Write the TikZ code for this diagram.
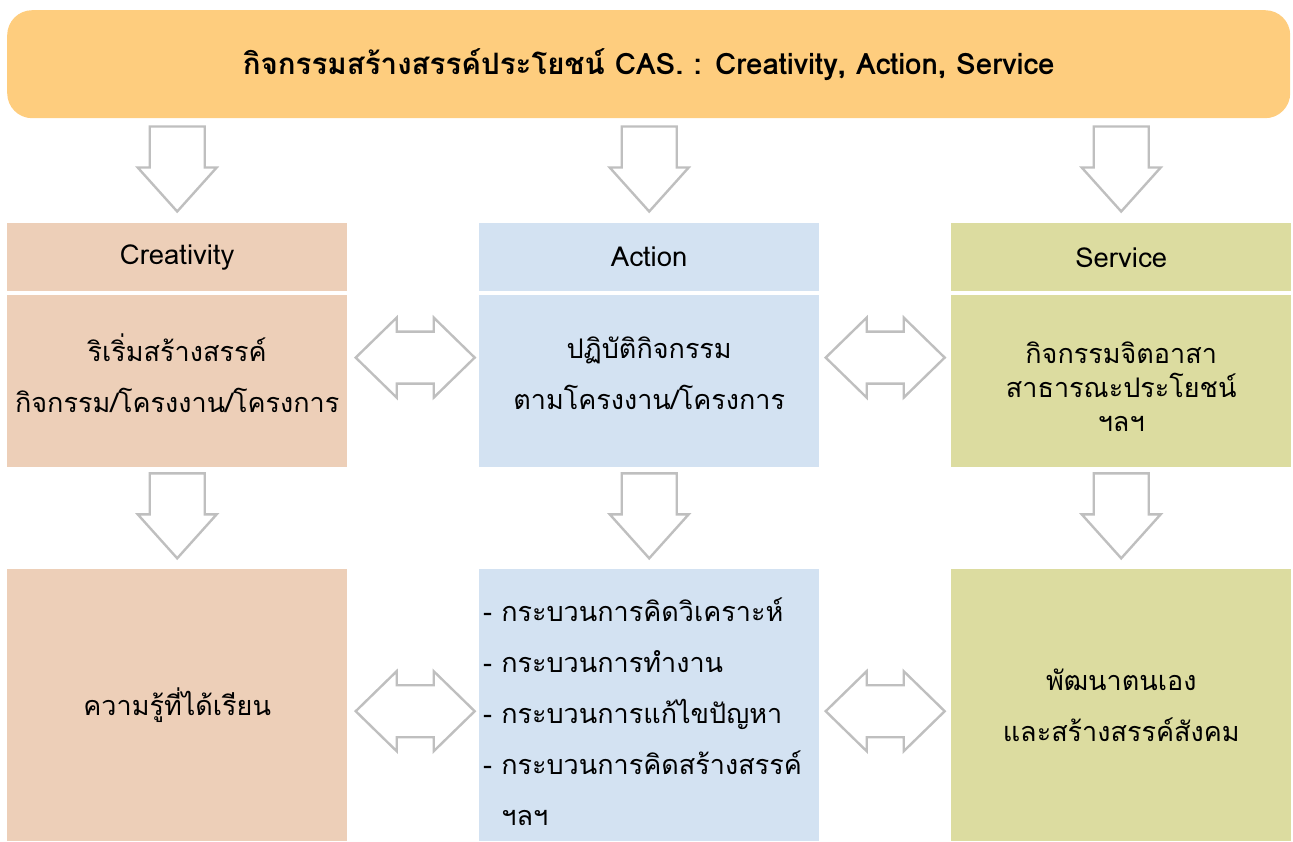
\documentclass[tikz,border=0pt]{standalone}
\usepackage{fontspec}
\usepackage{xcolor}
\usetikzlibrary{positioning,calc}
\newfontfamily\thaifont[Script=Thai]{Loma}

\definecolor{casorange}{RGB}{254,205,126}
\definecolor{crepeach}{RGB}{237,207,184}
\definecolor{actblue}{RGB}{211,226,242}
\definecolor{serolive}{RGB}{220,220,160}
\definecolor{arrgray}{RGB}{191,191,191}

\tikzset{
  arrline/.style={draw=arrgray,line width=2.4pt,fill=white,line join=miter},
  headbox/.style={rectangle,inner sep=0pt,minimum width=340pt,minimum height=68pt,
    font=\thaifont\fontsize{27.5}{30}\selectfont},
  bodybox/.style={rectangle,inner sep=0pt,minimum width=340pt,align=center,
    font=\thaifont\fontsize{27}{51}\selectfont},
  downarr/.pic={
    \draw[arrline] (-27.5,-42.5) -- (27.5,-42.5) -- (27.5,-1.5) -- (39.5,-1.5)
      -- (0,42.5) -- (-39.5,-1.5) -- (-27.5,-1.5) -- cycle;
  },
  dblarr/.pic={
    \draw[arrline] (-59.5,0) -- (-18.5,-40) -- (-18.5,-26) -- (18.5,-26) -- (18.5,-40)
      -- (59.5,0) -- (18.5,40) -- (18.5,26) -- (-18.5,26) -- (-18.5,40) -- cycle;
  }
}

\begin{document}
\begin{tikzpicture}[x=1pt,y=-1pt]
\useasboundingbox (0,0) rectangle (1293,841);

% banner
\node[rectangle,rounded corners=25pt,fill=casorange,minimum width=1283pt,minimum height=108pt,
  anchor=north west,font=\thaifont\bfseries\fontsize{29.5}{32}\selectfont] (cas) at (7,10)
  {กิจกรรมสร้างสรรค์ประโยชน์ CAS. : Creativity, Action, Service};

% column headers
\node[headbox,fill=crepeach,anchor=north west] (cre0) at (7,223) {Creativity};
\node[headbox,fill=actblue,anchor=north west] (act0) at (479,223) {Action};
\node[headbox,fill=serolive,anchor=north west] (ser0) at (951,223) {Service};

% first row
\node[bodybox,fill=crepeach,minimum height=172pt,below=3pt of cre0] (cre1)
  {ริเริ่มสร้างสรรค์\\กิจกรรม/โครงงาน/โครงการ\rule[-14pt]{0pt}{1pt}};
\node[bodybox,fill=actblue,minimum height=172pt,below=3pt of act0] (act1)
  {ปฏิบัติกิจกรรม\\ตามโครงงาน/โครงการ\rule[-14pt]{0pt}{1pt}};
\node[bodybox,fill=serolive,minimum height=172pt,below=3pt of ser0,
  font=\thaifont\fontsize{27}{34}\selectfont] (ser1)
  {\rule{0pt}{34pt}กิจกรรมจิตอาสา\\สาธารณะประโยชน์\\ฯลฯ};

% second row
\node[bodybox,fill=crepeach,minimum height=272pt,anchor=north west] (cre2) at (7,569)
  {ความรู้ที่ได้เรียน};
\node[bodybox,fill=actblue,minimum height=272pt,anchor=north west] (act2) at (479,569) {};
\node[anchor=west,align=left,inner sep=0pt,font=\thaifont\fontsize{27}{51}\selectfont]
  (actlist) at ([xshift=4pt,yshift=-7pt]act2.west)
  {- กระบวนการคิดวิเคราะห์\\- กระบวนการทำงาน\\- กระบวนการแก้ไขปัญหา\\- กระบวนการคิดสร้างสรรค์\\\ \ ฯลฯ};
\node[bodybox,fill=serolive,minimum height=272pt,anchor=north west] (ser2) at (951,569)
  {พัฒนาตนเอง\\และสร้างสรรค์สังคม};

% block arrows
\path (cre0.north) ++(0,-54) pic {downarr};
\path (act0.north) ++(0,-54) pic {downarr};
\path (ser0.north) ++(0,-54) pic {downarr};
\path (cre1.south) ++(0,49) pic {downarr};
\path (act1.south) ++(0,49) pic {downarr};
\path (ser1.south) ++(0,49) pic {downarr};
\path ($(cre1.east)!.5!(act1.west)$) ++(2,-23) pic {dblarr};
\path ($(act1.east)!.5!(ser1.west)$) ++(0,-23) pic {dblarr};
\path ($(cre2.east)!.5!(act2.west)$) ++(2,6) pic {dblarr};
\path ($(act2.east)!.5!(ser2.west)$) ++(0,6) pic {dblarr};
\end{tikzpicture}
\end{document}
